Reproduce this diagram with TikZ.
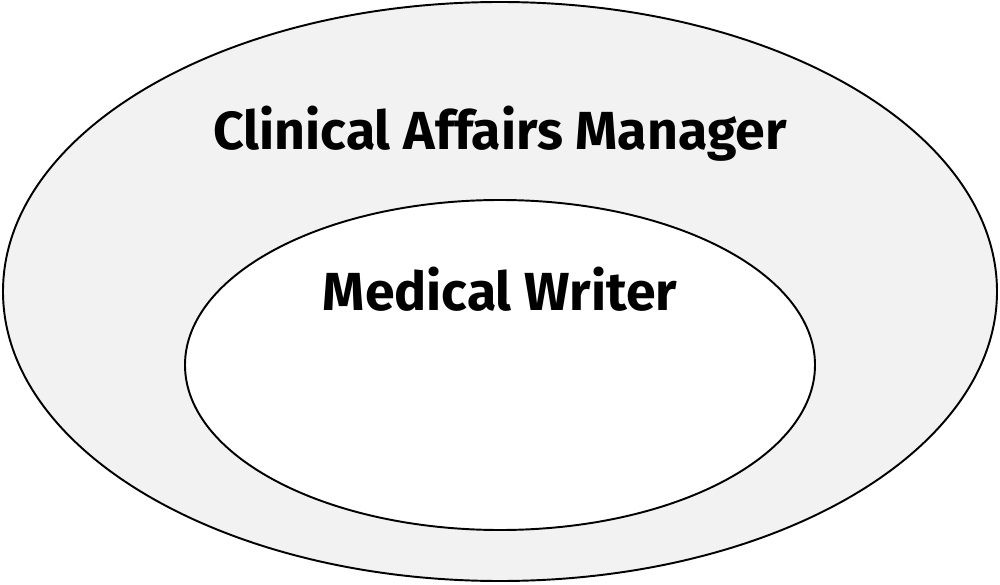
\documentclass[tikz,border=0pt]{standalone}
\usepackage{fontspec}
\setmainfont{Fira Sans}
\usetikzlibrary{positioning, shapes.geometric}

\begin{document}
\begin{tikzpicture}[
  ring/.style={
    ellipse, draw=black, line width=1.1pt, inner sep=0pt
  },
  role/.style={
    font=\fontsize{30.5}{36}\selectfont\bfseries, anchor=base, inner sep=0pt
  },
]
\useasboundingbox (0, 0) rectangle (20, 11.68);

\node[ring, fill=black!5, minimum width=19.88cm, minimum height=11.58cm] (outer) at (10, 5.85) {};
\node[ring, fill=white, minimum width=12.6cm, minimum height=6.6cm] (inner) at (10, 4.38) {};

% Labels
\node[role] (manager) at (10, 8.70) {Clinical Affairs Manager};
\node[role] (writer)  at (10, 5.48) {Medical Writer};

\end{tikzpicture}
\end{document}
